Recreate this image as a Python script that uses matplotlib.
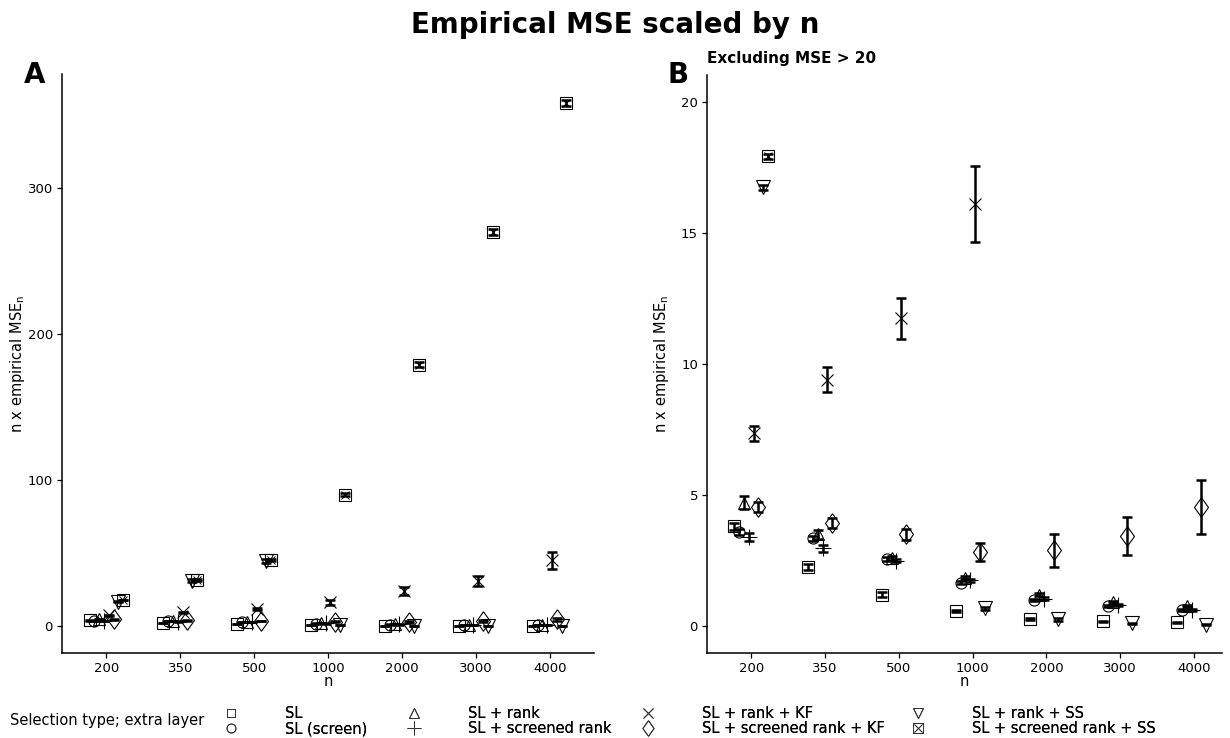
import numpy as np
import matplotlib
matplotlib.use("Agg")
import matplotlib.pyplot as plt
from matplotlib.lines import Line2D

# ---- data -------------------------------------------------------------
n_labels = ["200", "350", "500", "1000", "2000", "3000", "4000"]

series_names = [
    "SL",
    "SL (screen)",
    "SL + rank",
    "SL + screened rank",
    "SL + rank + KF",
    "SL + screened rank + KF",
    "SL + rank + SS",
    "SL + screened rank + SS",
]

# n x empirical MSE_n for each selection type
mse_sl = [3.80, 2.25, 1.20, 0.57, 0.28, 0.18, 0.14]
mse_sl_screen = [3.60, 3.35, 2.57, 1.65, 1.00, 0.76, 0.60]
mse_sl_rank = [4.70, 3.50, 2.60, 1.85, 1.20, 0.90, 0.75]
mse_sl_scrrank = [3.40, 2.97, 2.50, 1.75, 1.05, 0.80, 0.60]
mse_rank_kf = [7.35, 9.40, 11.75, 16.10, 24.0, 31.0, 45.0]
mse_scrrank_kf = [4.55, 3.93, 3.50, 2.82, 2.90, 3.44, 4.55]
mse_rank_ss = [16.75, 31.0, 44.5, 0.68, 0.25, 0.10, 0.05]
mse_scrrank_ss = [17.93, 31.5, 45.0, 90.0, 179.0, 270.0, 358.0]

# half-widths of the error bars
err_sl = [0.15, 0.12, 0.08, 0.05, 0.04, 0.03, 0.03]
err_sl_screen = [0.12, 0.10, 0.07, 0.06, 0.05, 0.04, 0.04]
err_sl_rank = [0.25, 0.18, 0.08, 0.06, 0.05, 0.04, 0.04]
err_sl_scrrank = [0.15, 0.13, 0.07, 0.06, 0.05, 0.04, 0.04]
err_rank_kf = [0.30, 0.48, 0.78, 1.45, 2.5, 3.5, 6.0]
err_scrrank_kf = [0.20, 0.20, 0.22, 0.35, 0.63, 0.72, 1.02]
err_rank_ss = [0.10, 1.0, 1.5, 0.06, 0.04, 0.03, 0.03]
err_scrrank_ss = [0.10, 0.5, 0.8, 1.2, 1.8, 2.0, 2.0]

values = [mse_sl, mse_sl_screen, mse_sl_rank, mse_sl_scrrank,
          mse_rank_kf, mse_scrrank_kf, mse_rank_ss, mse_scrrank_ss]
errors = [err_sl, err_sl_screen, err_sl_rank, err_sl_scrrank,
          err_rank_kf, err_scrrank_kf, err_rank_ss, err_scrrank_ss]

CUTOFF = 20

# ---- styling ----------------------------------------------------------
tall_diamond = [(0, 1), (0.72, 0), (0, -1), (-0.72, 0), (0, 1)]

marker_styles = [
    dict(marker="s", ms=8),
    dict(marker="o", ms=8),
    dict(marker="^", ms=9),
    dict(marker="+", ms=12),
    dict(marker="x", ms=9),
    dict(marker=tall_diamond, ms=14),
    dict(marker="v", ms=9.5),
    "boxx",
]

plt.rcParams["font.family"] = ["DejaVu Sans"]

W, H = 1230, 738
fig = plt.figure(figsize=(W / 100, H / 100), dpi=100)


def px_rect(left, right, top, bottom):
    return [left / W, 1 - bottom / H, (right - left) / W, (bottom - top) / H]


axA = fig.add_axes(px_rect(62, 594, 74, 653))
axB = fig.add_axes(px_rect(707, 1222, 75, 653))

dodge = 0.065
base = np.arange(len(n_labels))


def draw_marker(ax, x, y, k):
    st = marker_styles[k]
    if st == "boxx":
        ax.plot(x, y, linestyle="none", marker="s", ms=8.5, mfc="none",
                mec="black", mew=0.8, zorder=2)
        ax.plot(x, y, linestyle="none", marker="x", ms=6, mfc="none",
                mec="black", mew=0.7, zorder=2)
    else:
        ax.plot(x, y, linestyle="none", marker=st["marker"], ms=st["ms"],
                mfc="none", mec="black", mew=0.8, zorder=2)


def draw_panel(ax, cutoff=None):
    for k, (vals, errs) in enumerate(zip(values, errors)):
        v = np.array(vals, dtype=float)
        e = np.array(errs, dtype=float)
        x = base + (k - 3.5) * dodge
        if cutoff is not None:
            keep = v <= cutoff
            x, v, e = x[keep], v[keep], e[keep]
        draw_marker(ax, x, v, k)
        ax.errorbar(x, v, yerr=e, fmt="none", ecolor="black", elinewidth=1.8,
                    capsize=3.6, capthick=1.8, zorder=3)

    ax.set_xticks(base)
    ax.set_xticklabels(n_labels)
    for side in ("top", "right"):
        ax.spines[side].set_visible(False)
    for side in ("left", "bottom"):
        ax.spines[side].set_linewidth(1.1)
    ax.tick_params(axis="both", labelsize=9.5, length=3.5, width=0.9,
                   color="black", labelcolor="black", pad=3)
    ax.set_xlabel("n", fontsize=10.5)
    ax.set_ylabel(r"n x empirical MSE$_\mathregular{n}$", fontsize=10.5)
    ax.xaxis.set_label_coords(0.5, -0.036)


draw_panel(axA)
axA.set_xlim(-0.6, 6.6)
axA.set_ylim(-18.5, 378)
axA.set_yticks([0, 100, 200, 300])
axA.yaxis.set_label_coords(-0.066, 0.5)

draw_panel(axB, cutoff=CUTOFF)
axB.set_xlim(-0.6, 6.38)
axB.set_ylim(-1.03, 21.03)
axB.set_yticks([0, 5, 10, 15, 20])
axB.yaxis.set_label_coords(-0.069, 0.5)

# ---- titles and panel tags ------------------------------------------
fig.text(0.5, 1 - 25 / H, "Empirical MSE scaled by n", ha="center",
         va="center", fontsize=20, fontweight="bold")
fig.text(35 / W, 1 - 75 / H, "A", ha="center", va="center", fontsize=20,
         fontweight="bold")
fig.text(678 / W, 1 - 75 / H, "B", ha="center", va="center", fontsize=20,
         fontweight="bold")
fig.text(707 / W, 1 - 58 / H, "Excluding MSE > %d" % CUTOFF, ha="left",
         va="center", fontsize=11, fontweight="bold")

# ---- legend: four columns of two keys each ---------------------------
handles = []
for k, st in enumerate(marker_styles):
    if st == "boxx":
        h = (Line2D([], [], linestyle="none", marker="s", ms=7.5, mfc="none",
                    mec="#333333", mew=0.7),
             Line2D([], [], linestyle="none", marker="x", ms=5.5, mfc="none",
                    mec="#333333", mew=0.6))
    else:
        h = Line2D([], [], linestyle="none", marker=st["marker"],
                   ms=st["ms"] * 0.8, mfc="none", mec="#333333", mew=0.7)
    handles.append(h)

fig.text(10 / W, 1 - 721 / H, "Selection type; extra layer", ha="left",
         va="center", fontsize=10.5)

legend_fs = 10.5
legend_em = legend_fs * 100 / 72
column_key_x = [231, 414, 648, 918]
for c, kx in enumerate(column_key_x):
    leg = fig.legend(handles[2 * c:2 * c + 2], series_names[2 * c:2 * c + 2],
                     loc="center left",
                     bbox_to_anchor=((kx - legend_em) / W, 1 - 721 / H),
                     ncol=1, frameon=False, fontsize=legend_fs,
                     handlelength=2.0, handletextpad=(54 - legend_em) / legend_em,
                     labelspacing=0.05, borderpad=0, borderaxespad=0)
    fig.add_artist(leg)

fig.savefig("out.png", dpi=100)
